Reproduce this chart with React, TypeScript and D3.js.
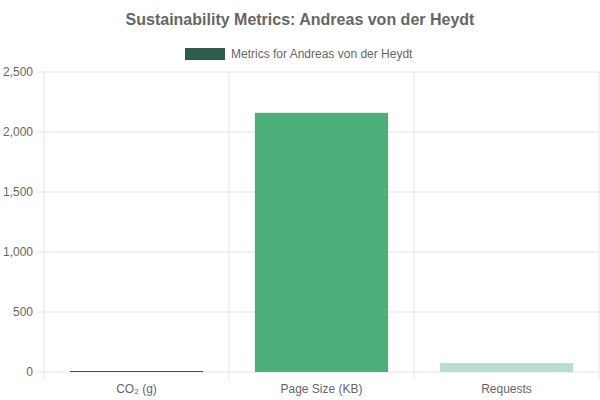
import * as React from 'react';
import * as d3 from 'd3';

const categories = ['CO₂ (g)', 'Page Size (KB)', 'Requests'];
const values = [0.6, 2160, 75];
const barColors = ['#2d5e4a', '#4caf7a', '#b5dfc7'];
const yTicks = [0, 500, 1000, 1500, 2000, 2500];
const title = 'Sustainability Metrics: Andreas von der Heydt';
const legendLabel = 'Metrics for Andreas von der Heydt';

const font = 'Helvetica, Arial, "Liberation Sans", sans-serif';

export default function App() {
	const W = 600, H = 400;
	const left = 44, right = 599, top = 72, bottom = 372;
	const x = d3.scaleBand<string>().domain(categories).range([left, right]);
	const y = d3.scaleLinear().domain([0, 2500]).range([bottom, top]);
	const fmt = d3.format(',');
	const bw = x.bandwidth() * 0.72;

	return (
		<svg width={W} height={H} style={{ position: 'absolute', left: 0, top: 0 }} fontFamily={font}>
			<text x={W / 2} y={25} textAnchor='middle' fontSize={16} fontWeight='bold' fill='#666'>{title}</text>
			<rect x={185} y={48} width={40} height={12} fill='#2d5e4a' />
			<text x={231} y={58} fontSize={12} fill='#666'>{legendLabel}</text>
			{yTicks.map(t => (
				<g key={t}>
					<line x1={left - 8} x2={right} y1={y(t)} y2={y(t)} stroke='#e5e5e5' />
					<text x={left - 11} y={y(t) + 4} textAnchor='end' fontSize={12} fill='#666'>{fmt(t)}</text>
				</g>
			))}
			{[...categories.map(c => x(c)!), right].map((v, i) => (
				<line key={i} x1={v} x2={v} y1={top} y2={bottom + 8} stroke='#e5e5e5' />
			))}
			{categories.map((c, i) => {
				const cx = x(c)! + x.bandwidth() / 2;
				const h = Math.max(bottom - y(values[i]), 1);
				return (
					<g key={c}>
						<rect x={cx - bw / 2} y={bottom - h} width={bw} height={h} fill={barColors[i]} />
						<text x={cx} y={bottom + 21} textAnchor='middle' fontSize={12} fill='#666'>{c}</text>
					</g>
				);
			})}
		</svg>
	);
}
